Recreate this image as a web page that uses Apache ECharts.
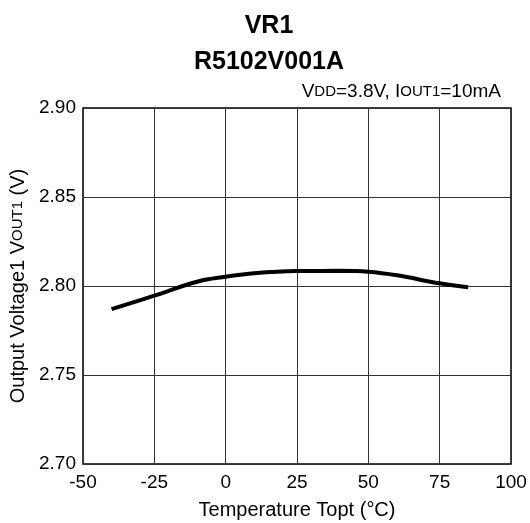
<!DOCTYPE html>
<html><head><meta charset="utf-8">
<script src="https://cdn.jsdelivr.net/npm/echarts@6/dist/echarts.min.js"></script>
<style>html,body{margin:0;padding:0;background:#fff}#c{width:530px;height:523px}</style>
</head><body><div id="c"></div>
<script>
const temps = [-40, -25, -10, 0, 10, 25, 40, 50, 60, 75, 85];
const vout = [2.787, 2.7946, 2.8024, 2.8052, 2.8072, 2.8084, 2.8085, 2.808, 2.806, 2.8015, 2.7993];
const xTicks = [-50, -25, 0, 25, 50, 75, 100];
const yTicks = [2.70, 2.75, 2.80, 2.85, 2.90];

const chart = echarts.init(document.getElementById('c'), null, {renderer: 'canvas'});
const F = 'Liberation Sans, Arial, sans-serif';
chart.setOption({
  animation: false,
  backgroundColor: '#fff',
  title: [
    {text: 'VR1', left: 264, top: 9, textAlign: 'center', textStyle: {fontFamily: F, fontSize: 25, fontWeight: 'bold', color: '#000'}},
    {text: 'R5102V001A', left: 264, top: 45, textAlign: 'center', textStyle: {fontFamily: F, fontSize: 25, fontWeight: 'bold', color: '#000'}}
  ],
  graphic: [{
    type: 'text', right: 29, top: 82,
    style: {
      text: '{n|V}{s|DD}{n|=3.8V, I}{s|OUT1}{n|=10mA}',
      rich: {n: {fontFamily: F, fontSize: 19, fill: '#000'}, s: {fontFamily: F, fontSize: 15, fill: '#000'}}
    }
  }],
  grid: {left: 83, right: 19, top: 108, bottom: 59, containLabel: false, outerBoundsMode: 'none', show: true, borderColor: '#000', borderWidth: 1.5},
  xAxis: {
    type: 'value', min: -50, max: 100, interval: 25,
    name: 'Temperature Topt (°C)', nameLocation: 'middle', nameGap: 36,
    nameTextStyle: {fontFamily: F, fontSize: 20, color: '#000'},
    axisLine: {show: false}, axisTick: {show: false},
    axisLabel: {fontFamily: F, fontSize: 19, color: '#000', margin: 9},
    splitLine: {show: true, lineStyle: {color: '#333', width: 1}}
  },
  yAxis: {
    type: 'value', min: 2.70, max: 2.90, interval: 0.05,
    name: '{n|Output Voltage1 V}{s|OUT1}{n| (V)}', nameLocation: 'middle', nameGap: 52,
    nameTextStyle: {rich: {n: {fontFamily: F, fontSize: 20, color: '#000'}, s: {fontFamily: F, fontSize: 15, color: '#000'}}},
    axisLine: {show: false}, axisTick: {show: false},
    axisLabel: {fontFamily: F, fontSize: 19, color: '#000', margin: 7, formatter: v => v.toFixed(2)},
    splitLine: {show: true, lineStyle: {color: '#333', width: 1}}
  },
  series: [{
    type: 'line', smooth: 0.4, showSymbol: false,
    data: temps.map((t, i) => [t, vout[i]]),
    lineStyle: {color: '#000', width: 4}
  }]
});
</script></body></html>
